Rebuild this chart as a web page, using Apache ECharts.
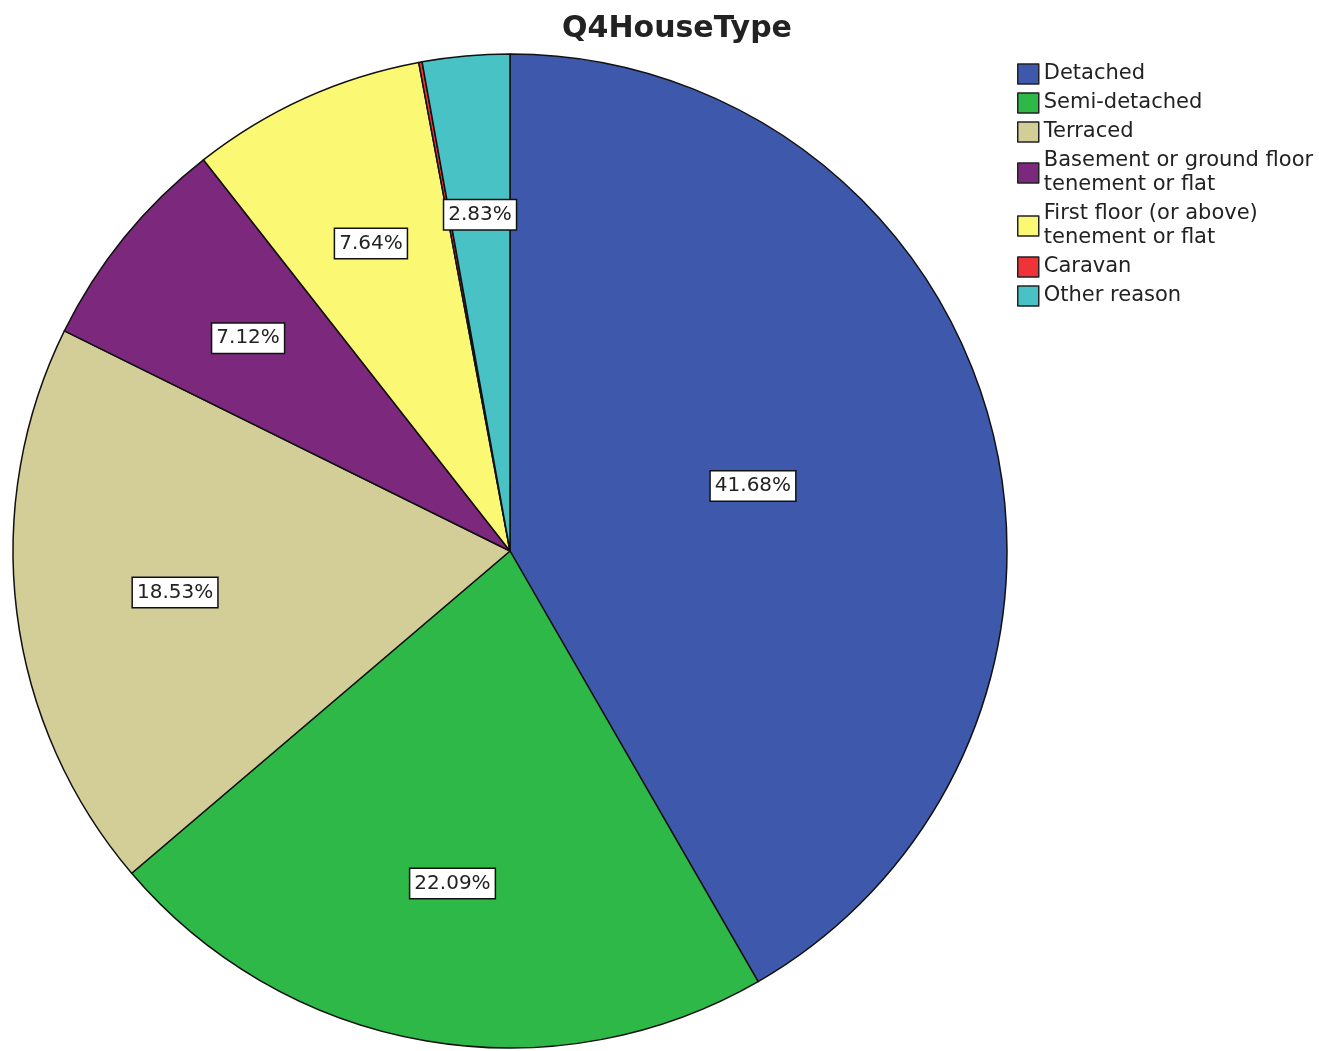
<!DOCTYPE html>
<html>
<head>
<meta charset="utf-8">
<script src="https://cdn.jsdelivr.net/npm/echarts@6/dist/echarts.min.js"></script>
<style>
html,body{margin:0;padding:0;background:#fff;}
#chart{width:1319px;height:1051px;}
</style>
</head>
<body>
<div id="chart"></div>
<script>
// ---- data ----
const chartTitle = 'Q4HouseType';
const categories = ['Detached', 'Semi-detached', 'Terraced', 'Basement or ground floor tenement or flat', 'First floor (or above) tenement or flat', 'Caravan', 'Other reason'];
const legendLabels = ['Detached', 'Semi-detached', 'Terraced', 'Basement or ground floor\ntenement or flat', 'First floor (or above)\ntenement or flat', 'Caravan', 'Other reason'];
const percents = [41.68, 22.09, 18.53, 7.12, 7.64, 0.11, 2.83];
const labelTexts = ['41.68%', '22.09%', '18.53%', '7.12%', '7.64%', '', '2.83%'];
const colors = ['#3E58AC', '#2EB848', '#D3CE97', '#7B287D', '#FBF873', '#EF3338', '#48C2C5'];

// ---- chart ----
const chart = echarts.init(document.getElementById('chart'), null, {renderer: 'canvas'});
const FONT = 'DejaVu Sans, Verdana, sans-serif';
const labelBox = {
  color: '#222',
  fontFamily: FONT,
  fontSize: 20,
  backgroundColor: '#fff',
  borderColor: '#111',
  borderWidth: 1.5,
  padding: [5, 4, 4, 4]
};
const center = [510, 551];
const R = 497;

const mainData = categories.map((c, i) => ({
  name: c,
  value: percents[i],
  itemStyle: {color: colors[i]},
  label: Object.assign({show: i === 0, formatter: labelTexts[i]}, labelBox)
}));
const overlayData = categories.map((c, i) => ({
  name: c,
  value: percents[i],
  label: Object.assign({show: i !== 0 && labelTexts[i] !== '', formatter: labelTexts[i]}, labelBox)
}));

chart.setOption({
  animation: false,
  backgroundColor: '#fff',
  title: {
    text: chartTitle,
    left: 672,
    textAlign: 'center',
    top: 9,
    textStyle: {fontFamily: FONT, fontSize: 30, fontWeight: 'bold', color: '#222'}
  },
  legend: {
    orient: 'vertical',
    left: 1012,
    top: 57,
    data: categories,
    itemWidth: 21,
    itemHeight: 20,
    itemGap: 5,
    icon: 'rect',
    itemStyle: {borderColor: '#222', borderWidth: 1.5},
    formatter: name => legendLabels[categories.indexOf(name)],
    textStyle: {fontFamily: FONT, fontSize: 21, color: '#222', lineHeight: 24}
  },
  series: [
    {
      type: 'pie',
      center: center,
      radius: [0, R],
      startAngle: 90,
      clockwise: true,
      silent: true,
      label: {position: 'inside'},
      labelLine: {show: false},
      itemStyle: {borderColor: '#111', borderWidth: 1.5},
      emphasis: {disabled: true},
      data: mainData
    },
    {
      type: 'pie',
      center: center,
      radius: [172, R],
      startAngle: 90,
      clockwise: true,
      silent: true,
      legendHoverLink: false,
      z: 5,
      label: {position: 'inside'},
      labelLine: {show: false},
      itemStyle: {color: 'rgba(0,0,0,0)', borderWidth: 0},
      emphasis: {disabled: true},
      data: overlayData
    }
  ]
});
</script>
</body>
</html>
